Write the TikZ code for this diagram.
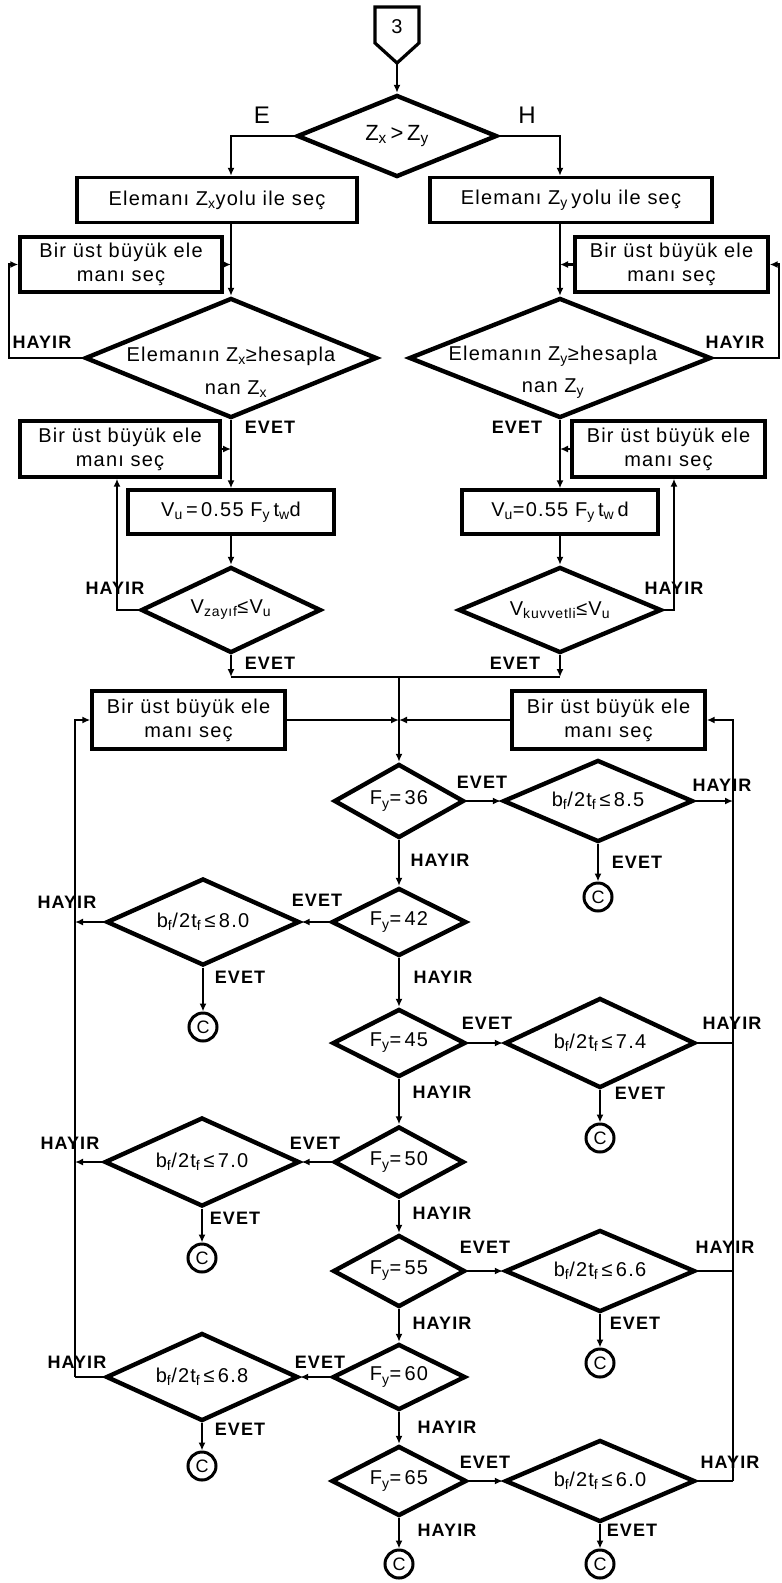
\documentclass[tikz,border=0pt]{standalone}
\usepackage{fontspec}
\setmainfont{Liberation Sans}
\newfontfamily\tf{Liberation Sans}[LetterSpace=6]
\usetikzlibrary{shapes.geometric,arrows.meta,calc}
\tikzset{
 dia/.style={diamond, draw, line width=4.4pt, inner sep=0pt},
 box/.style={draw, line width=3.4pt, inner sep=0pt, align=center, font=\tf\fontsize{20}{24}\selectfont},
 txt/.style={inner sep=0pt, align=center, font=\tf\fontsize{20}{24}\selectfont},
 lbl/.style={inner sep=0pt, font=\tf\bfseries\fontsize{18}{20}\selectfont},
 big/.style={inner sep=0pt, font=\tf\fontsize{24}{28}\selectfont},
 conn/.style={line width=2.6pt},
 arr/.style={conn, -{Latex[length=8pt,width=7pt]}},
 cc/.style={circle, draw, line width=3pt, minimum size=28pt, inner sep=0pt, font=\tf\fontsize{18}{20}\selectfont},
}
\newcommand\mydia[6]{\node[dia,minimum width=#4pt,minimum height=#5pt] (#1) at (#2,#3) {};
 \node[txt] (#1t) at (#1.center) {#6};}
\newcommand\bft[1]{b\textsubscript{f}/2t\textsubscript{f}\,≤\,#1}
\newcommand\fy[1]{F\textsubscript{y}=\,#1}
\begin{document}
\begin{tikzpicture}[x=1pt,y=-1pt]
\useasboundingbox (0,0) rectangle (782,1583);
% coordinates of vertical lines
\coordinate (xl) at (231,0);
\coordinate (xr) at (560,0);
\coordinate (lx1) at (9,0);
\coordinate (rx1) at (779,0);
\coordinate (lx2) at (117,0);
\coordinate (rx2) at (674,0);
\coordinate (lx3) at (75,0);
\coordinate (rx3) at (733,0);
% off-page connector
\draw[line width=3.2pt, line join=miter] (375,7) -- (419,7) -- (419,43) -- (397,63) -- (375,43) -- cycle;
\node[txt] (t3) at (397,27) {3};
\coordinate (p3) at (397,63);
% first decision
\mydia{d0}{397}{136}{200}{82}{\fontsize{22}{26}\selectfont Z\textsubscript{x}\,>\,Z\textsubscript{y}}
\node[big] (lE) at (262,115) {E};
\node[big] (lH) at (527,115) {H};
\draw[arr] (p3) -- (d0.north);
% boxes
\node[box, minimum width=280pt, minimum height=45pt] (l1) at (217,200) {Elemanı Z\textsubscript{x}yolu ile seç};
\node[box, minimum width=282pt, minimum height=45pt] (r1) at (571,200) {Elemanı Z\textsubscript{y}\,yolu ile seç};
\draw[arr] (d0.west) -| (l1.north -| xl);
\draw[arr] (d0.east) -| (r1.north -| xr);
% left column
\mydia{l2}{231}{358}{292}{120}{}
\node[txt] (l2a) at (231,356) {Elemanın Z\textsubscript{x}≥hesapla};
\node[txt] (l2b) at (236,389) {nan Z\textsubscript{x}};
\node[box, minimum width=202pt, minimum height=55pt] (lb1) at (121,264.5) {Bir üst büyük ele\\manı seç};
\draw[arr] (l1.south -| xl) -- (l2.north);
\draw[arr] (lb1.east) -- (lb1.east -| xl);
\draw[arr] (l2.west) -- (l2.west -| lx1) |- (lb1.west);
\node[lbl] (h1) at (42,342) {HAYIR};
\node[lbl] (e1) at (270,427) {EVET};
\node[box, minimum width=200pt, minimum height=56pt] (lb2) at (120,449) {Bir üst büyük ele\\manı seç};
\node[box, minimum width=206pt, minimum height=44pt] (vul) at (231,512) {V\textsubscript{u}\,=\,0.55 F\textsubscript{y}\,t\textsubscript{w}d};
\draw[arr] (l2.south) -- (vul.north);
\draw[arr] (lb2.east) -- (lb2.east -| xl);
\mydia{vz}{231}{610}{180}{86}{V\textsubscript{zayıf}≤V\textsubscript{u}}
\draw[arr] (vul.south) -- (vz.north);
\draw[arr] (vz.west) -| (lx2 |- lb2.south);
\node[lbl] (h2) at (115,588) {HAYIR};
\node[lbl] (e2) at (270,663) {EVET};
% right column
\mydia{r2}{560}{358}{302}{120}{}
\node[txt] (r2a) at (553,356) {Elemanın Z\textsubscript{y}≥hesapla};
\node[txt] (r2b) at (553,389) {nan Z\textsubscript{y}};
\node[box, minimum width=193pt, minimum height=55pt] (rb1) at (671.5,264.5) {Bir üst büyük ele\\manı seç};
\draw[arr] (r1.south -| xr) -- (r2.north);
\draw[arr] (rb1.west) -- (rb1.west -| xr);
\draw[arr] (r2.east) -- (r2.east -| rx1) |- (rb1.east);
\node[lbl] (h3) at (735,342) {HAYIR};
\node[lbl] (e3) at (517,427) {EVET};
\node[box, minimum width=193pt, minimum height=56pt] (rb2) at (668.5,449) {Bir üst büyük ele\\manı seç};
\node[box, minimum width=196pt, minimum height=44pt] (vur) at (560,512) {V\textsubscript{u}=0.55 F\textsubscript{y}\,t\textsubscript{w}\,d};
\draw[arr] (r2.south) -- (vur.north);
\draw[arr] (rb2.west) -- (rb2.west -| xr);
\mydia{vk}{560}{610}{203}{86}{V\textsubscript{kuvvetli}≤V\textsubscript{u}}
\draw[arr] (vur.south) -- (vk.north);
\draw[arr] (vk.east) -| (rx2 |- rb2.south);
\node[lbl] (h4) at (674,588) {HAYIR};
\node[lbl] (e4) at (515,663) {EVET};
% merge
\coordinate (ml) at (231,677);
\coordinate (mr) at (560,677);
\coordinate (mm) at (399,677);
\draw[arr] (vz.south) -- (ml);
\draw[arr] (vk.south) -- (mr);
\draw[conn] (ml) -- (mr);
% second boxes
\node[box, minimum width=193pt, minimum height=58pt] (bl) at (188.5,720) {Bir üst büyük ele\\manı seç};
\node[box, minimum width=193pt, minimum height=58pt] (br) at (608.5,720) {Bir üst büyük ele\\manı seç};
\draw[arr] (bl.east) -- (bl.east -| mm);
\draw[arr] (br.west) -- (br.west -| mm);
% chain
\mydia{f36}{399}{801}{130}{74}{\fy{36}}
\mydia{b85}{598}{801}{190}{82}{\bft{8.5}}
\mydia{f42}{399}{922}{135}{68}{\fy{42}}
\mydia{b80}{203}{922}{193}{87}{\bft{8.0}}
\mydia{f45}{399}{1043}{133}{68}{\fy{45}}
\mydia{b74}{600}{1043}{190}{90}{\bft{7.4}}
\mydia{f50}{399}{1162}{130}{71}{\fy{50}}
\mydia{b70}{202}{1162}{195}{89}{\bft{7.0}}
\mydia{f55}{399}{1271}{132}{72}{\fy{55}}
\mydia{b66}{600}{1271}{190}{82}{\bft{6.6}}
\mydia{f60}{399}{1377}{133}{66}{\fy{60}}
\mydia{b68}{202}{1377}{192}{88}{\bft{6.8}}
\mydia{f65}{399}{1481}{135}{70}{\fy{65}}
\mydia{b60}{600}{1481}{190}{82}{\bft{6.0}}
\node[cc] (c1) at (598,897) {C};
\node[cc] (c2) at (203,1027) {C};
\node[cc] (c3) at (600,1138) {C};
\node[cc] (c4) at (202,1258) {C};
\node[cc] (c5) at (600,1363) {C};
\node[cc] (c6) at (202,1466) {C};
\node[cc] (c7) at (399,1564) {C};
\node[cc] (c8) at (600,1564) {C};
\draw[arr] (mm) -- (f36.north);
\draw[arr] (f36.south) -- (f42.north);
\draw[arr] (f42.south) -- (f45.north);
\draw[arr] (f45.south) -- (f50.north);
\draw[arr] (f50.south) -- (f55.north);
\draw[arr] (f55.south) -- (f60.north);
\draw[arr] (f60.south) -- (f65.north);
\draw[arr] (f65.south) -- (c7.north);
\draw[arr] (f36.east) -- (b85.west);
\draw[arr] (f42.west) -- (b80.east);
\draw[arr] (f45.east) -- (b74.west);
\draw[arr] (f50.west) -- (b70.east);
\draw[arr] (f55.east) -- (b66.west);
\draw[arr] (f60.west) -- (b68.east);
\draw[arr] (f65.east) -- (b60.west);
\draw[arr] (b85.south) -- (c1.north);
\draw[arr] (b80.south) -- (c2.north);
\draw[arr] (b74.south) -- (c3.north);
\draw[arr] (b70.south) -- (c4.north);
\draw[arr] (b66.south) -- (c5.north);
\draw[arr] (b68.south) -- (c6.north);
\draw[arr] (b60.south) -- (c8.north);
% right loop
\draw[arr] (b85.east) -- (b85.east -| rx3);
\draw[conn] (b74.east) -- (b74.east -| rx3);
\draw[conn] (b66.east) -- (b66.east -| rx3);
\draw[conn] (b60.east) -- (b60.east -| rx3);
\draw[arr] (b60.east -| rx3) |- (br.east);
% left loop
\draw[arr] (b80.west) -- (b80.west -| lx3);
\draw[arr] (b70.west) -- (b70.west -| lx3);
\draw[conn] (b68.west) -- (b68.west -| lx3);
\draw[arr] (b68.west -| lx3) |- (bl.west);
% labels
\node[lbl] (k1) at (482,782) {EVET};
\node[lbl] (k2) at (722,785) {HAYIR};
\node[lbl] (k3) at (637,862) {EVET};
\node[lbl] (k4) at (440,860) {HAYIR};
\node[lbl] (k5) at (317,900) {EVET};
\node[lbl] (k6) at (67,902) {HAYIR};
\node[lbl] (k7) at (240,977) {EVET};
\node[lbl] (k8) at (443,977) {HAYIR};
\node[lbl] (k9) at (487,1023) {EVET};
\node[lbl] (k10) at (732,1023) {HAYIR};
\node[lbl] (k11) at (640,1093) {EVET};
\node[lbl] (k12) at (442,1092) {HAYIR};
\node[lbl] (k13) at (315,1143) {EVET};
\node[lbl] (k14) at (70,1143) {HAYIR};
\node[lbl] (k15) at (235,1218) {EVET};
\node[lbl] (k16) at (442,1213) {HAYIR};
\node[lbl] (k17) at (485,1247) {EVET};
\node[lbl] (k18) at (725,1247) {HAYIR};
\node[lbl] (k19) at (635,1323) {EVET};
\node[lbl] (k20) at (442,1323) {HAYIR};
\node[lbl] (k21) at (320,1362) {EVET};
\node[lbl] (k22) at (77,1362) {HAYIR};
\node[lbl] (k23) at (240,1429) {EVET};
\node[lbl] (k24) at (447,1427) {HAYIR};
\node[lbl] (k25) at (485,1462) {EVET};
\node[lbl] (k26) at (730,1462) {HAYIR};
\node[lbl] (k27) at (447,1530) {HAYIR};
\node[lbl] (k28) at (632,1530) {EVET};
\end{tikzpicture}
\end{document}
